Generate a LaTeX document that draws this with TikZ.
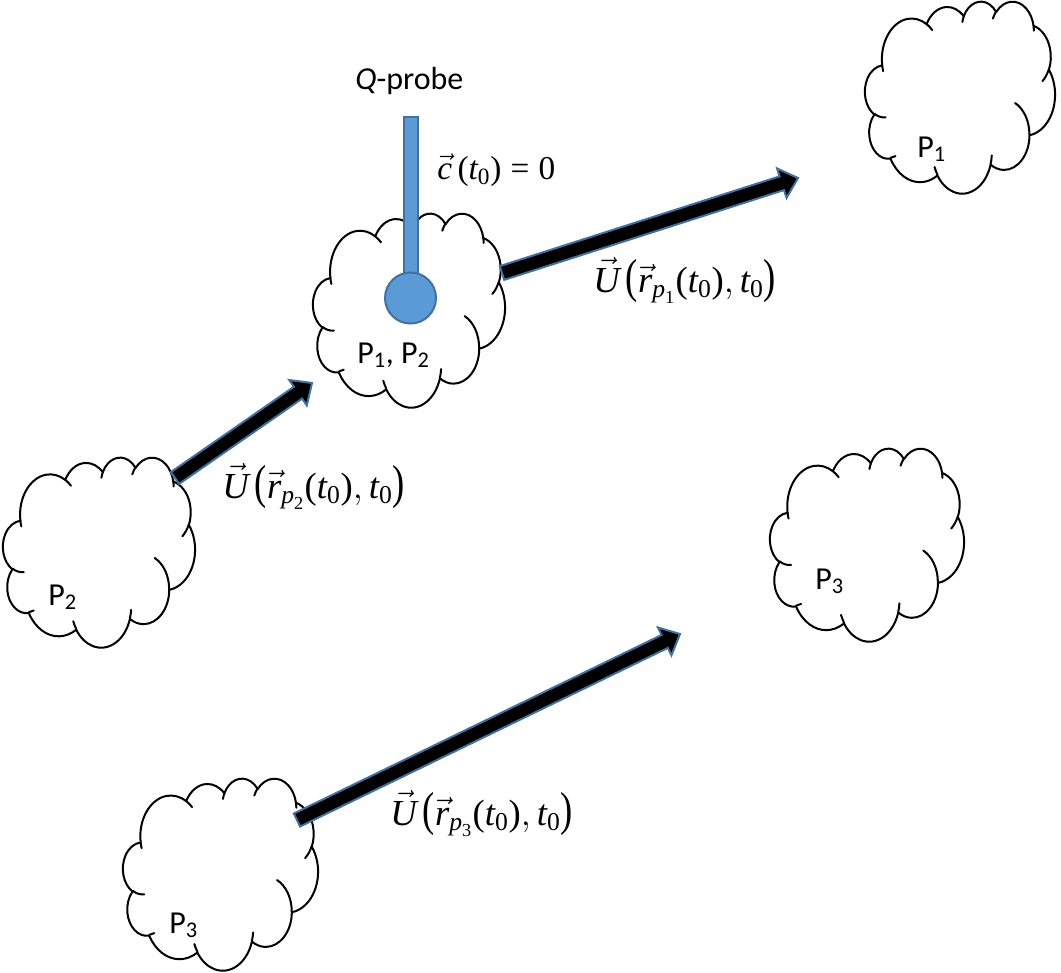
\RequirePackage{fix-cm}
\documentclass[tikz,border=0pt]{standalone}
\usepackage{amsmath}
\usepackage{graphicx}
\usepackage[no-math]{fontspec}
\setmainfont{Carlito}
\newfontfamily\timesf{Liberation Serif}
\usetikzlibrary{calc}
\definecolor{probefill}{HTML}{5B9BD5}
\definecolor{probeline}{HTML}{41719C}
\definecolor{arrowline}{HTML}{41719C}
% DrawingML-like arc: wR hR stAng swAng (visual angles, degrees)
\newcommand\ooarc[4]{\pgfextra{%
  \pgfmathsetmacro\ooS{#3}%
  \pgfmathsetmacro\ooE{(#3)+(#4)}%
  \pgfmathsetmacro\ooPs{atan2((#1)*sin(\ooS),(#2)*cos(\ooS))}%
  \pgfmathsetmacro\ooPs{(\ooPs)+360*round(((\ooS)-(\ooPs))/360)}%
  \pgfmathsetmacro\ooPe{atan2((#1)*sin(\ooE),(#2)*cos(\ooE))}%
  \pgfmathsetmacro\ooPe{(\ooPe)+360*round(((\ooE)-(\ooPe))/360)}%
  } arc[start angle=\ooPs, end angle=\ooPe, x radius=#1, y radius=#2]}
\newcommand\drawcloud[4]{%
  \begin{scope}[shift={(#1,#2)}, xscale=#3/43.2, yscale=#4/43.2]
    \filldraw[cloudline, fill=white] (3.9,14.37)
      \ooarc{6.753}{9.19}{-190.4875}{123.7805}
      \ooarc{5.333}{7.267}{-144.1024}{89.9452}
      \ooarc{4.365}{5.945}{-145.8079}{99.7230}
      \ooarc{4.857}{6.595}{-130.9861}{117.2417}
      \ooarc{5.333}{7.273}{-78.7089}{109.0269}
      \ooarc{6.775}{9.22}{-46.2673}{130.2690}
      \ooarc{5.785}{7.867}{0.6250}{114.0333}
      \ooarc{6.752}{9.215}{22.4516}{115.1726}
      \ooarc{7.72}{10.543}{66.2426}{75.7110}
      \ooarc{4.36}{5.918}{-274.9421}{146.7356}
      \ooarc{4.345}{5.945}{-246.8285}{152.5189} -- cycle;
    \draw[cloudline]
      (4.693,26.177) \ooarc{4.345}{5.945}{86.7420}{26.4295}
      (6.928,34.899) \ooarc{4.36}{5.918}{73.6105}{11.4475}
      (16.478,39.09) \ooarc{6.752}{9.215}{137.6242}{14.0811}
      (28.827,34.751) \ooarc{6.752}{9.215}{6.4533}{15.9984}
      (34.129,22.954) \ooarc{5.785}{7.867}{-70.2924}{70.9174}
      (41.798,15.354) \ooarc{5.333}{7.273}{30.3180}{27.7515}
      (38.324,5.426) \ooarc{4.857}{6.595}{-13.7443}{14.8589}
      (29.078,3.952) \ooarc{4.857}{6.595}{-149.1815}{18.1954}
      (22.141,4.72) \ooarc{4.365}{5.945}{-163.4943}{17.6864}
      (14.0,5.192) \ooarc{6.753}{9.19}{-66.7070}{12.3194}
      (4.127,15.789) \ooarc{6.753}{9.19}{157.6544}{11.8582};
  \end{scope}}
\newcommand\fatarrow[2]{%
  \coordinate (fab) at ($(#2)!12.75pt!(#1)$);
  \filldraw[fatarrow] ($(#1)!5.4pt!90:(#2)$) -- ($(fab)!5.4pt!-90:(#1)$)
    -- ($(fab)!11.6pt!-90:(#1)$) -- (#2) -- ($(fab)!11.6pt!90:(#1)$)
    -- ($(fab)!5.4pt!90:(#1)$) -- ($(#1)!5.4pt!-90:(#2)$) -- cycle;}
\newcommand\ti[1]{\text{\timesf\itshape #1}}
\newcommand\tu[1]{\text{\timesf #1}}
\newcommand\bp[1]{\text{\scalebox{1}[1.3]{\timesf #1}}}
\newcommand\ulabel[1]{$\vec{\ti{U}}\,\bp{(}\vec{\ti{r}}_{\ti{p}_{\tu{#1}}}\tu{(}\ti{t}_{\tu{0}}\tu{)}{,}\,\ti{t}_{\tu{0}}\bp{)}$}
\begin{document}
\begin{tikzpicture}[x=0.75pt,y=-0.75pt,
  cloudline/.style={line width=1.5pt, line join=round, line cap=round},
  fatarrow/.style={fill=black, draw=arrowline, line width=1.5pt, line join=miter},
  lbl/.style={font=\fontsize{24}{29}\selectfont, inner sep=0pt},
  clbl/.style={font=\fontsize{25}{30}\selectfont, inner sep=0pt},
  ulbl/.style={font=\fontsize{27.5}{33}\selectfont, inner sep=0pt},
  probe/.style={fill=probefill, draw=probeline, line width=1.5pt, inner sep=0pt}]
\useasboundingbox (0,0) rectangle (1061,972);
% clouds
\drawcloud{865}{1}{190}{192}
\drawcloud{313}{213}{192}{194}
\drawcloud{3}{457}{192}{190}
\drawcloud{770}{448}{194}{193}
\drawcloud{123}{778}{195}{192}
% cloud labels
\node[lbl, anchor=base west] (p1) at (917,157) {P\textsubscript{1}};
\node[lbl, anchor=base west] (p12) at (357,363) {P\textsubscript{1}, P\textsubscript{2}};
\node[lbl, anchor=base west] (p2) at (48,605) {P\textsubscript{2}};
\node[lbl, anchor=base west] (p3r) at (815,589) {P\textsubscript{3}};
\node[lbl, anchor=base west] (p3l) at (169,933) {P\textsubscript{3}};
% probe
\node[probe, rectangle, minimum width=10.5pt, minimum height=126pt] (stick) at (410.5,201) {};
\node[probe, circle, minimum size=38.25pt] (ball) at (410.5,298) {};
\node[lbl, anchor=base west] (qprobe) at (355,89) {\textit{Q}-probe};
\node[clbl, anchor=base west] (ceq) at (437,179) {$\vec{\ti{c}}\,\tu{(}\ti{t}_{\tu{0}}\tu{)} \mathrel{\tu{=}} \tu{0}$};
% arrows
\coordinate (a1s) at (502,273); \coordinate (a1e) at (798,178);
\coordinate (a2s) at (175,478); \coordinate (a2e) at (312,383);
\coordinate (a3s) at (297,820); \coordinate (a3e) at (680,634);
\fatarrow{a1s}{a1e}
\fatarrow{a2s}{a2e}
\fatarrow{a3s}{a3e}
% velocity labels
\node[ulbl, anchor=base west] (u1) at (593,292) {\ulabel{1}};
\node[ulbl, anchor=base west] (u2) at (222,498) {\ulabel{2}};
\node[ulbl, anchor=base west] (u3) at (390,825) {\ulabel{3}};
\end{tikzpicture}
\end{document}
